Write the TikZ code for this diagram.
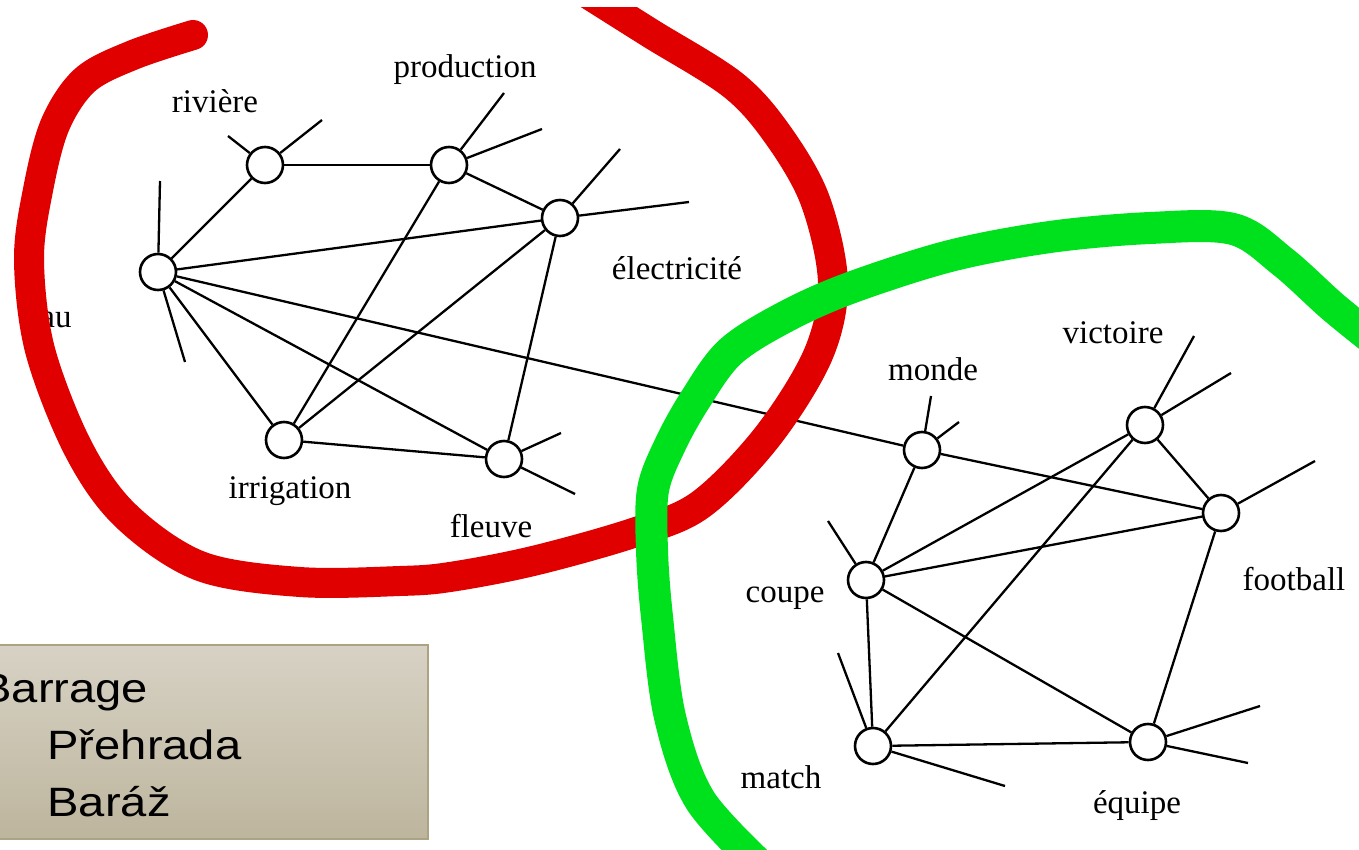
\documentclass[tikz,border=0pt]{standalone}
\usepackage{fontspec}
\setmainfont{Liberation Serif}
\newfontfamily\boxfont{Liberation Sans}
\definecolor{ringred}{RGB}{225,0,0}
\definecolor{ringgreen}{RGB}{0,225,30}
\definecolor{boxtop}{RGB}{215,210,197}
\definecolor{boxbot}{RGB}{189,181,157}
\definecolor{boxborder}{RGB}{172,162,132}
\begin{document}
\begin{tikzpicture}[x=0.5pt,y=-0.5pt,
  vtx/.style={circle,draw,line width=1.3pt,minimum size=18pt,inner sep=0pt,fill=white},
  edge/.style={line width=1.15pt},
  lbl/.style={font=\fontsize{16.5}{18}\selectfont,anchor=base,inner sep=0pt},
  boxtxt/.style={font=\boxfont\fontsize{20.5}{24}\selectfont,anchor=base west,inner sep=0pt,xscale=1.15},
  ring/.style={line width=15pt,line cap=round,line join=round}]
\clip (0,0) rectangle (1359,850);
\fill[white] (0,0) rectangle (1359,850);

% ---- vertices
\node[vtx] (eau)  at (158,272) {};
\node[vtx] (riv)  at (265,165) {};
\node[vtx] (prod) at (449,165) {};
\node[vtx] (elec) at (560,218) {};
\node[vtx] (irr)  at (284,440) {};
\node[vtx] (fle)  at (504,459) {};
\node[vtx] (mon)  at (922,450) {};
\node[vtx] (vic)  at (1145,425) {};
\node[vtx] (foo)  at (1221,513) {};
\node[vtx] (cou)  at (866,580) {};
\node[vtx] (mat)  at (873,746) {};
\node[vtx] (equ)  at (1148,742) {};

% ---- stub ends
\coordinate (eauA) at (160,181);
\coordinate (eauB) at (185,362);
\coordinate (rivA) at (228,136);
\coordinate (rivB) at (322,120);
\coordinate (prodA) at (504,93);
\coordinate (prodB) at (542,129);
\coordinate (elecA) at (620,149);
\coordinate (elecB) at (689,202);
\coordinate (fleA) at (561,433);
\coordinate (fleB) at (575,494);
\coordinate (monA) at (931,396);
\coordinate (monB) at (959,422);
\coordinate (vicA) at (1194,336);
\coordinate (vicB) at (1231,373);
\coordinate (fooA) at (1315,461);
\coordinate (couA) at (828,521);
\coordinate (matA) at (838,653);
\coordinate (matB) at (1005,786);
\coordinate (equA) at (1260,706);
\coordinate (equB) at (1248,763);

% ---- edges
\draw[edge] (eau) -- (riv);
\draw[edge] (eau) -- (elec);
\draw[edge] (eau) -- (irr);
\draw[edge] (eau) -- (fle);
\draw[edge] (eau) -- (mon);
\draw[edge] (riv) -- (prod);
\draw[edge] (prod) -- (elec);
\draw[edge] (prod) -- (irr);
\draw[edge] (elec) -- (irr);
\draw[edge] (elec) -- (fle);
\draw[edge] (irr) -- (fle);
\draw[edge] (mon) -- (foo);
\draw[edge] (mon) -- (cou);
\draw[edge] (vic) -- (cou);
\draw[edge] (vic) -- (mat);
\draw[edge] (vic) -- (foo);
\draw[edge] (foo) -- (cou);
\draw[edge] (foo) -- (equ);
\draw[edge] (cou) -- (mat);
\draw[edge] (cou) -- (equ);
\draw[edge] (mat) -- (equ);

% ---- stubs
\draw[edge] (eau) -- (eauA);
\draw[edge] (eau) -- (eauB);
\draw[edge] (riv) -- (rivA);
\draw[edge] (riv) -- (rivB);
\draw[edge] (prod) -- (prodA);
\draw[edge] (prod) -- (prodB);
\draw[edge] (elec) -- (elecA);
\draw[edge] (elec) -- (elecB);
\draw[edge] (fle) -- (fleA);
\draw[edge] (fle) -- (fleB);
\draw[edge] (mon) -- (monA);
\draw[edge] (mon) -- (monB);
\draw[edge] (vic) -- (vicA);
\draw[edge] (vic) -- (vicB);
\draw[edge] (foo) -- (fooA);
\draw[edge] (cou) -- (couA);
\draw[edge] (mat) -- (matA);
\draw[edge] (mat) -- (matB);
\draw[edge] (equ) -- (equA);
\draw[edge] (equ) -- (equB);

% ---- labels
\node[lbl] (lriv) at (215,113) {rivière};
\node[lbl] (lprod) at (465,78) {production};
\node[lbl] (lelec) at (677,279) {électricité};
\node[lbl,anchor=base east] (leau) at (72,327) {eau};
\node[lbl] (lirr) at (290,498) {irrigation};
\node[lbl] (lfle) at (491,537) {fleuve};
\node[lbl] (lmon) at (933,380) {monde};
\node[lbl] (lvic) at (1113,343) {victoire};
\node[lbl] (lfoo) at (1294,590) {football};
\node[lbl] (lcou) at (785,602) {coupe};
\node[lbl] (lmat) at (781,788) {match};
\node[lbl] (lequ) at (1137,813) {équipe};

% ---- red ring
\begin{scope}
\clip (-20,8) rectangle (1400,900);
\draw[ring,ringred] plot[smooth,tension=0.55] coordinates {
 (585,-8) (650,33) (733,85) (778,135) (815,200) (833,283) (818,355)
 (767,437) (700,505) (633,533) (533,561) (450,577) (400,581) (300,582)
 (200,566) (125,515) (78,448) (40,350) (29,260) (38,190) (55,125)
 (85,80) (133,55) (193,35)};
\end{scope}

% ---- green ring
\draw[ring,line width=16pt,ringgreen] plot[smooth,tension=0.55] coordinates {
 (765,870) (700,800) (670,717) (657,617) (652,550) (653,490) (670,445)
 (695,400) (730,352) (785,317) (850,288) (950,256) (1050,237) (1150,228)
 (1233,229) (1283,262) (1333,307) (1380,345)};

% ---- box
\draw[boxborder,line width=1pt,top color=boxtop,bottom color=boxbot] (-20,645) rectangle (428,839);
\node[boxtxt] (b1) at (-20,702) {Barrage};
\node[boxtxt] (b2) at (47,759) {Přehrada};
\node[boxtxt] (b3) at (47,816) {Baráž};
\end{tikzpicture}
\end{document}
